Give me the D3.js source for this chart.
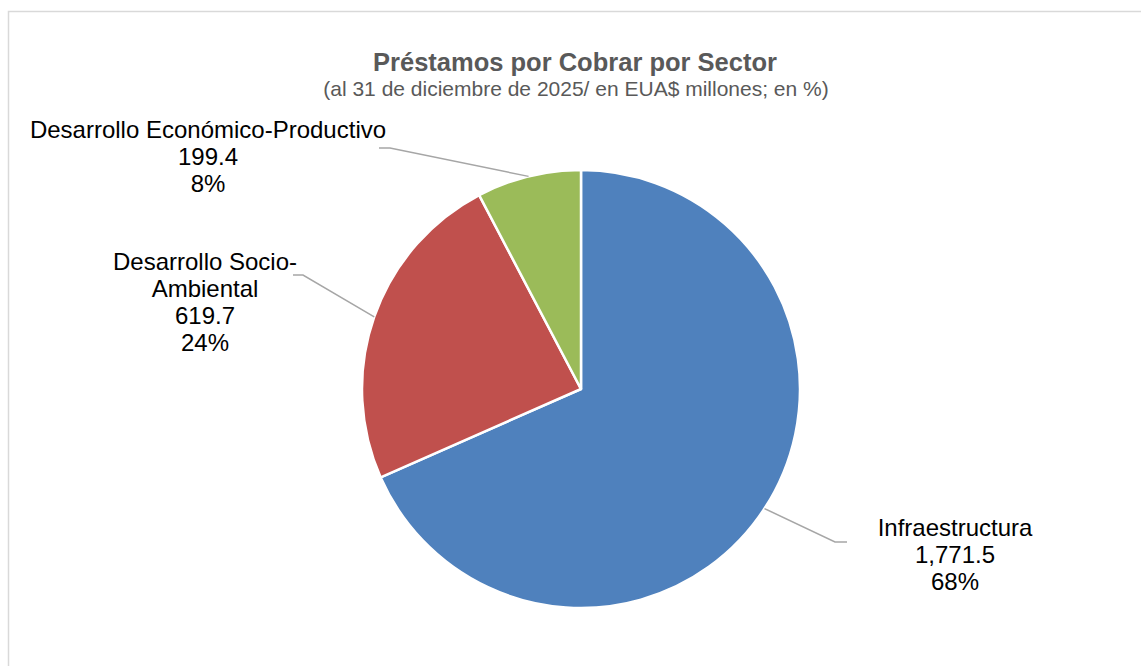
<!DOCTYPE html>
<html>
<head>
<meta charset="utf-8">
<script src="https://cdn.jsdelivr.net/npm/d3@7"></script>
<style>
  html, body { margin: 0; padding: 0; background: #fff; }
  svg { display: block; font-family: "Liberation Sans", Arial, sans-serif; }
</style>
</head>
<body>
<div id="chart"></div>
<script>
// --- Data ---
const sectors = ["Infraestructura", "Desarrollo Socio-Ambiental", "Desarrollo Económico-Productivo"];
const amounts = [1771.5, 619.7, 199.4];
const sliceColors = ["#4F81BD", "#C0504D", "#9BBB59"];
// label text lines (name split the way the picture wraps it)
const nameLines = [["Infraestructura"], ["Desarrollo Socio-", "Ambiental"], ["Desarrollo Económico-Productivo"]];

const titleText = "Préstamos por Cobrar por Sector";
const subtitleText = "(al 31 de diciembre de 2025/ en EUA$ millones; en %)";

// --- Layout ---
const W = 1141, H = 666;
const cx = 581, cy = 389, radius = 219;
const lineHeight = 27;
// label block: centre x, first baseline, where the leader meets the label, elbow length
const labelLayout = [
  { x: 955, y: 536, ax: 847, ay: 542, elbow: 12 },
  { x: 205, y: 270, ax: 293, ay: 275, elbow: 10 },
  { x: 208, y: 138, ax: 379, ay: 148, elbow: 11 },
];

const data = sectors.map((s, i) => ({ sector: s, value: amounts[i], color: sliceColors[i], lines: nameLines[i], layout: labelLayout[i] }));
const total = d3.sum(amounts);

const svg = d3.select("#chart").append("svg").attr("width", W).attr("height", H);

// chart area border (continues off the right and bottom edges)
svg.append("rect")
  .attr("x", 8.5).attr("y", 11.5)
  .attr("width", W + 20).attr("height", H + 20)
  .attr("fill", "none").attr("stroke", "#D9D9D9").attr("stroke-width", 1.5);

// --- Titles ---
svg.append("text")
  .attr("x", 575).attr("y", 71)
  .attr("text-anchor", "middle")
  .attr("font-size", "25.5px").attr("font-weight", "bold")
  .attr("fill", "#595959")
  .text(titleText);

svg.append("text")
  .attr("x", 576).attr("y", 96)
  .attr("text-anchor", "middle")
  .attr("font-size", "21px")
  .attr("fill", "#595959")
  .text(subtitleText);

// --- Pie ---
const pie = d3.pie().value((d) => d.value).sort(null);
const arc = d3.arc().innerRadius(0).outerRadius(radius);
const arcs = pie(data);

const g = svg.append("g").attr("transform", `translate(${cx}, ${cy})`);

g.selectAll("path.slice")
  .data(arcs)
  .join("path")
  .attr("class", "slice")
  .attr("d", arc)
  .attr("fill", (d) => d.data.color)
  .attr("stroke", "#fff")
  .attr("stroke-width", 2.5)
  .attr("stroke-linejoin", "round");

// --- Leader lines ---
// start on the slice edge at its middle angle, elbow, then a short horizontal run to the label
arcs.forEach((d) => {
  const mid = (d.startAngle + d.endAngle) / 2;
  const px = cx + radius * Math.sin(mid);
  const py = cy - radius * Math.cos(mid);
  const L = d.data.layout;
  const dir = L.ax > px ? -1 : 1; // elbow sits toward the pie
  const ex = L.ax + dir * L.elbow;
  svg.append("polyline")
    .attr("points", `${px},${py} ${ex},${L.ay} ${L.ax},${L.ay}`)
    .attr("fill", "none")
    .attr("stroke", "#A6A6A6")
    .attr("stroke-width", 1.5);
});

// --- Data labels ---
const fmtValue = d3.format(",.1f");
const fmtPct = (v) => Math.round((v / total) * 100) + "%";

arcs.forEach((d) => {
  const L = d.data.layout;
  const lines = [...d.data.lines, fmtValue(d.data.value), fmtPct(d.data.value)];
  const t = svg.append("text")
    .attr("text-anchor", "middle")
    .attr("font-size", "24px")
    .attr("fill", "#000");
  lines.forEach((line, i) => {
    t.append("tspan").attr("x", L.x).attr("y", L.y + i * lineHeight).text(line);
  });
});
</script>
</body>
</html>
